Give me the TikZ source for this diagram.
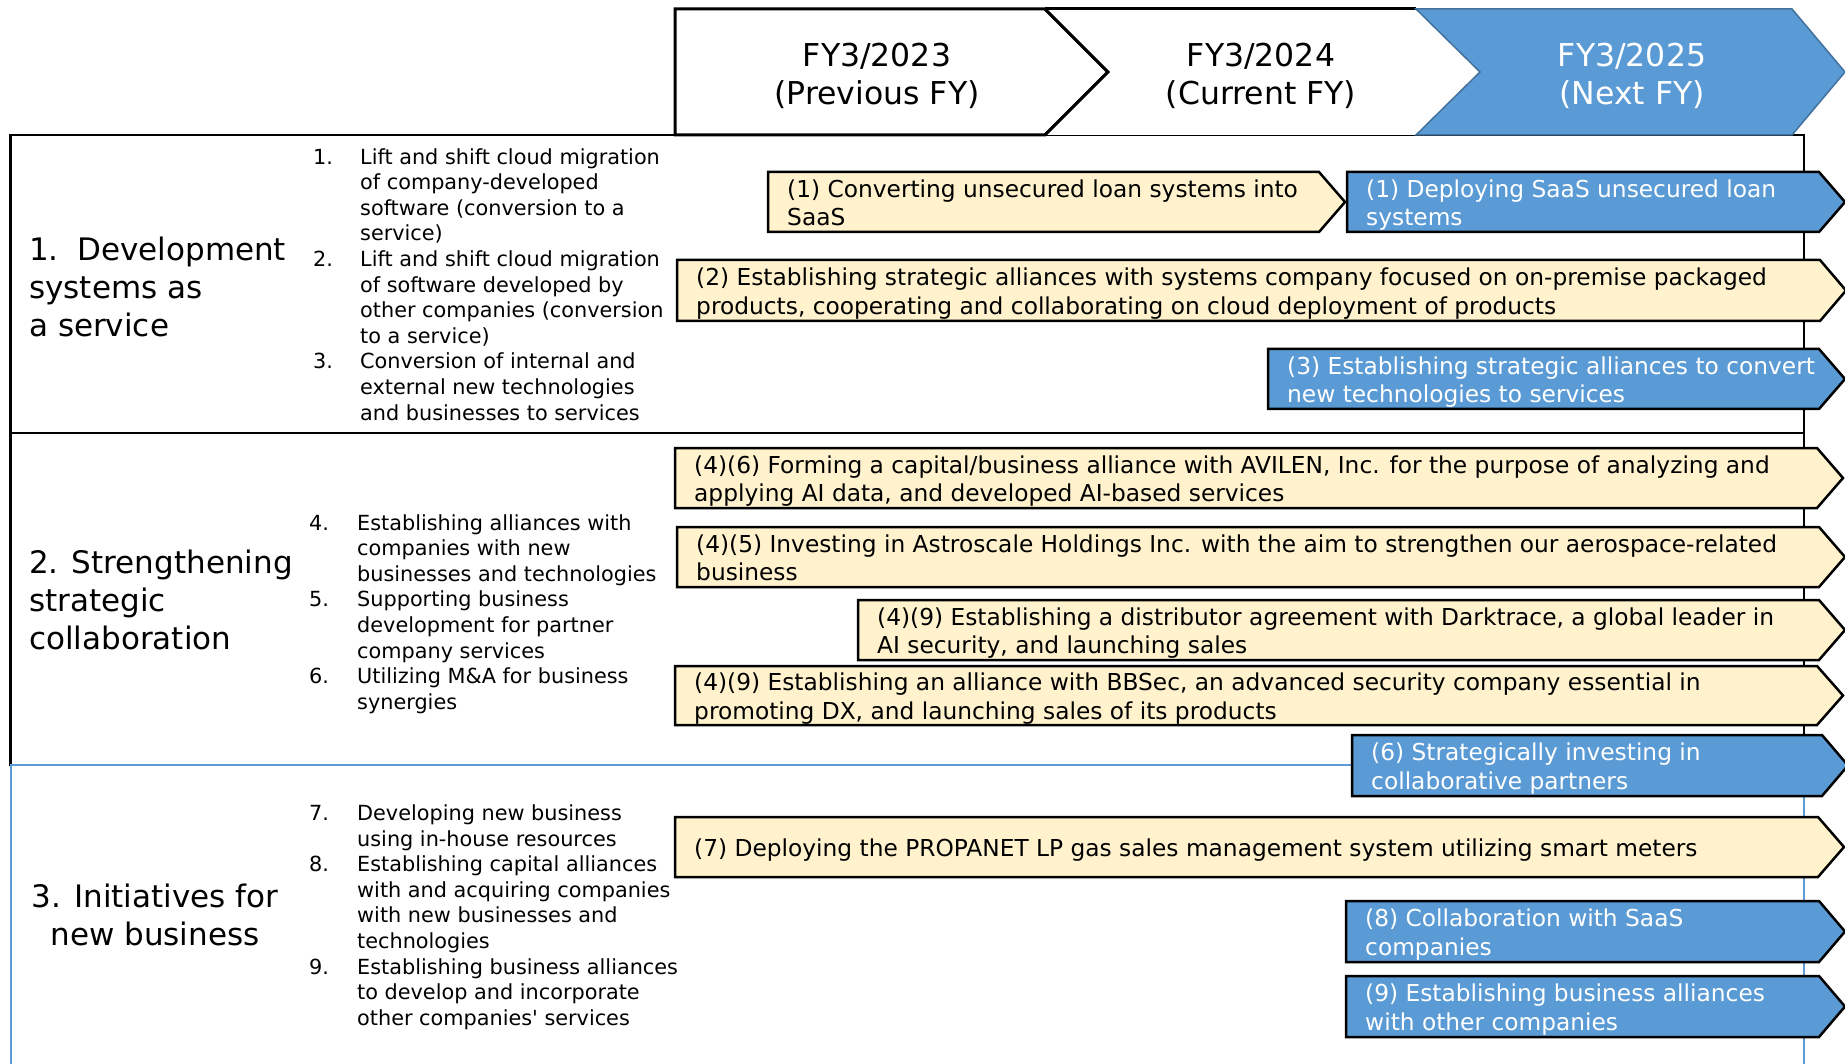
\documentclass[tikz,border=0pt]{standalone}
\usepackage{fontspec}
\setmainfont{DejaVu Sans}
\usetikzlibrary{calc}
\definecolor{yfill}{HTML}{FFF2CC}
\definecolor{bfill}{HTML}{5B9BD5}
\definecolor{bdark}{HTML}{41719C}
\tikzset{
  ybar/.style={fill=yfill, draw=black, line width=2.5pt, line join=miter},
  bbar/.style={fill=bfill, draw=black, line width=2.5pt, line join=miter},
  ytext/.style={anchor=base west, align=left, inner sep=0pt, font=\fontsize{23.3}{28.5}\selectfont, text=black},
  btext/.style={ytext, text=white},
  title/.style={anchor=base west, align=left, inner sep=0pt, font=\fontsize{31}{38}\selectfont},
  listn/.style={anchor=base west, inner sep=0pt, font=\fontsize{20.8}{25.6}\selectfont},
  head/.style={anchor=base, align=center, inner sep=0pt, font=\fontsize{31.5}{38}\selectfont},
  secline/.style={draw=black, line width=2.7pt},
}
% name, style, textstyle, x1, x2, y1, y2, baseline of last line, text
\newcommand\arrbar[9]{%
  \draw[#2] (#4,#6) -- (#5,#6) -- ({#5+26},{(#6+#7)/2}) -- (#5,#7) -- (#4,#7) -- cycle;
  \node[#3] (#1) at ({#4+19},{#8+2.4}) {#9};
}
\begin{document}
\begin{tikzpicture}[x=1pt,y=-1pt]
\useasboundingbox (0,0) rectangle (1845,1064);
% section boxes
\draw[secline] (10.6,135) rectangle (1804,433);
\draw[secline] (10.6,433) rectangle (1804,765);
\draw[draw=bfill, line width=2pt] (10.6,765) rectangle (1804,1110);
% header
\draw[fill=white, draw=black, line width=3pt, line join=miter] (675,9) -- (1045,9) -- (1108,72) -- (1045,135) -- (675,135) -- cycle;
\fill[white] (1045,9) -- (1416,9) -- (1480,72) -- (1416,135) -- (1045,135) -- (1108,72) -- cycle;
\draw[black, line width=3pt] (1045,9) -- (1416,9);
\draw[black, line width=3pt, line join=miter] (1045,9) -- (1108,72) -- (1045,135);
\draw[fill=bfill, draw=bdark, line width=1.5pt, line join=miter] (1416,9) -- (1792,9) -- (1845,72) -- (1792,135) -- (1416,135) -- (1480,72) -- cycle;
\node[head] (h1) at (877,104.4) {FY3/2023\\(Previous FY)};
\node[head] (h2) at (1261,104.4) {FY3/2024\\(Current FY)};
\node[head, text=white] (h3) at (1632,104.4) {FY3/2025\\(Next FY)};
% titles
\node[title] (t1) at (29,336.5) {1.\hspace{0.6em}Development\\systems as\\a service};
\node[title] (t2) at (29,649) {2. Strengthening\\strategic\\collaboration};
\node[title, anchor=base, align=center] (t3) at (155,945) {3. Initiatives for\\new business};
% lists
\node[listn] (l1) at (313,164.1) {\begin{tabular}[t]{@{}p{47pt}@{}l@{}}
1. & Lift and shift cloud migration\\
 & of company-developed\\
 & software (conversion to a\\
 & service)\\
2. & Lift and shift cloud migration\\
 & of software developed by\\
 & other companies (conversion\\
 & to a service)\\
3. & Conversion of internal and\\
 & external new technologies\\
 & and businesses to services
\end{tabular}};
\node[listn] (l2) at (309,530.1) {\begin{tabular}[t]{@{}p{48pt}@{}l@{}}
4. & Establishing alliances with\\
 & companies with new\\
 & businesses and technologies\\
5. & Supporting business\\
 & development for partner\\
 & company services\\
6. & Utilizing M\&A for business\\
 & synergies
\end{tabular}};
\node[listn] (l3) at (309,820.5) {\begin{tabular}[t]{@{}p{48pt}@{}l@{}}
7. & Developing new business\\
 & using in-house resources\\
8. & Establishing capital alliances\\
 & with and acquiring companies\\
 & with new businesses and\\
 & technologies\\
9. & Establishing business alliances\\
 & to develop and incorporate\\
 & other companies\textquotesingle{} services
\end{tabular}};
% bars
\arrbar{y1}{ybar}{ytext}{768}{1319}{172}{232}{223.5}{(1) Converting unsecured loan systems into\\SaaS}
\arrbar{b1}{bbar}{btext}{1347}{1819}{172}{232}{223.5}{(1) Deploying SaaS unsecured loan\\systems}
\arrbar{y2}{ybar}{ytext}{677}{1820}{260}{321}{312}{(2) Establishing strategic alliances with systems company focused on on-premise packaged\\products, cooperating and collaborating on cloud deployment of products}
\arrbar{b3}{bbar}{btext}{1268}{1819}{349}{409}{400.5}{(3) Establishing strategic alliances to convert\\new technologies to services}
\arrbar{y46}{ybar}{ytext}{675}{1817}{448}{508}{499.5}{(4)(6) Forming a capital/business alliance with AVILEN, Inc. for the purpose of analyzing and\\applying AI data, and developed AI-based services}
\arrbar{y45}{ybar}{ytext}{677}{1819}{527}{587}{578.5}{(4)(5) Investing in Astroscale Holdings Inc. with the aim to strengthen our aerospace-related\\business}
\arrbar{y49a}{ybar}{ytext}{858}{1819}{600}{660}{651.5}{(4)(9) Establishing a distributor agreement with Darktrace, a global leader in\\AI security, and launching sales}
\arrbar{y49b}{ybar}{ytext}{675}{1817}{666}{725}{717}{(4)(9) Establishing an alliance with BBSec, an advanced security company essential in\\promoting DX, and launching sales of its products}
\arrbar{b6}{bbar}{btext}{1352}{1822}{735}{796}{787}{(6) Strategically investing in\\collaborative partners}
\arrbar{y7}{ybar}{ytext}{675}{1818}{817}{877}{854.5}{(7) Deploying the PROPANET LP gas sales management system utilizing smart meters}
\arrbar{b8}{bbar}{btext}{1346}{1819}{901}{962}{953}{(8) Collaboration with SaaS\\companies}
\arrbar{b9}{bbar}{btext}{1346}{1819}{976}{1037}{1028}{(9) Establishing business alliances\\with other companies}
\end{tikzpicture}
\end{document}
